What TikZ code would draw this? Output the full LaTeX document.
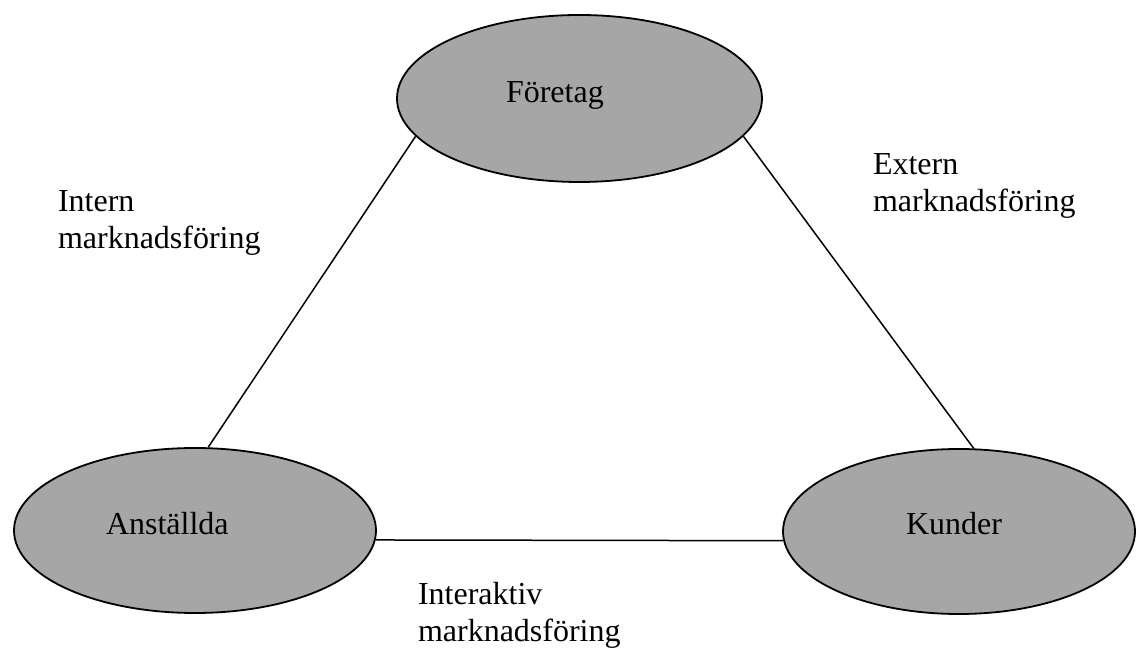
\documentclass[tikz,border=0pt]{standalone}
\usepackage{fontspec}
\setmainfont{Liberation Serif}
\usetikzlibrary{shapes.geometric}
\definecolor{fillgray}{RGB}{166,166,166}
\begin{document}
\begin{tikzpicture}[x=1pt,y=1pt,
  oval/.style={ellipse, draw=black, line width=1.8pt, fill=fillgray, inner sep=0pt},
  conn/.style={draw=black, line width=1.5pt},
  lbl/.style={inner sep=0pt, outer sep=0pt, anchor=base west, align=left,
              font=\fontsize{32}{37}\selectfont}]
\useasboundingbox (0,0) rectangle (1138,653);
\node[oval, minimum width=365pt, minimum height=167pt] (F) at (579.5,554.5) {};
\node[oval, minimum width=362pt, minimum height=165pt] (A) at (195,122.5) {};
\node[oval, minimum width=352pt, minimum height=165pt] (K) at (959,121.5) {};
\draw[conn] (F.193) -- (A.81.7);
\draw[conn] (F.347) -- (K.80.5);
\draw[conn] (A.-3.95) -- (K.183.7);
\node[lbl] (tF) at (506,550) {Företag};
\node[lbl] (tA) at (106,118) {Anställda};
\node[lbl] (tK) at (906,118) {Kunder};
\node[lbl] (tI) at (58,404) {Intern\\marknadsföring};
\node[lbl] (tE) at (873,441) {Extern\\marknadsföring};
\node[lbl] (tX) at (418,11) {Interaktiv\\marknadsföring};
\end{tikzpicture}
\end{document}
